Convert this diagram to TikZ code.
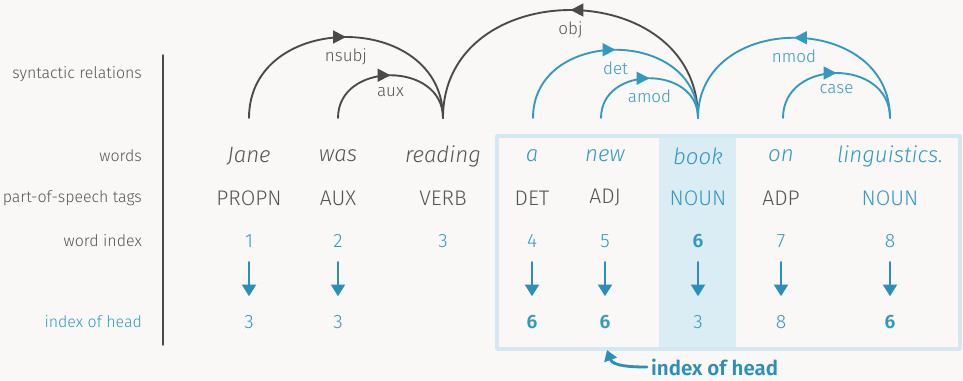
\documentclass[tikz,border=0pt]{standalone}
\usepackage{fontspec}
\setmainfont{Fira Sans}[UprightFont=* Light, ItalicFont=* Light Italic, BoldFont=* SemiBold]
\usetikzlibrary{arrows.meta,decorations.markings}

\begin{document}
\begin{tikzpicture}[
    x=0.03cm,
    y=-0.03cm,
    line cap=round,
    line join=round,
]
\definecolor{dpBack}{HTML}{F9F8F6}
\definecolor{dpGray}{HTML}{555555}
\definecolor{dpDark}{HTML}{4A4A4A}
\definecolor{dpBlue}{HTML}{3598BF}
\definecolor{dpArrow}{HTML}{2B8FB7}
\definecolor{dpFrame}{HTML}{D4E8F1}
\definecolor{dpShade}{HTML}{DAECF4}

\tikzset{
    rowlabel/.style={anchor=east,text=dpGray,font=\fontsize{13.6}{16}\selectfont},
    wordtxt/.style={font=\fontsize{19}{22}\selectfont\itshape},
    tagtxt/.style={font=\fontsize{18}{21}\selectfont},
    numtxt/.style={text=dpBlue,font=\fontsize{16.5}{19}\selectfont},
    numbold/.style={text=dpBlue,font=\fontsize{16.5}{19}\selectfont\bfseries},
    arclabel/.style={pos=0.5,below=6pt,font=\fontsize{14.5}{17}\selectfont},
    deparc/.style={line width=1.6pt,postaction={decorate},
        decoration={markings,mark=at position 0.5 with {\arrow{Triangle[length=11pt,width=11pt]}}}},
    grayarc/.style={deparc,draw=dpDark,text=dpGray},
    bluearc/.style={deparc,draw=dpBlue,text=dpBlue},
    headarrow/.style={draw=dpArrow,line width=1.8pt,-{Triangle[length=10pt,width=12pt]},
        shorten <=18pt,shorten >=22pt},
    notearrow/.style={draw=dpArrow,line width=2.4pt,-{Triangle[length=9pt,width=11pt]}},
}

% one arc from dependent to head, label under its top
\newcommand{\deparc}[5]{
    \draw[#5] (#1) .. controls +(0,-#3) and +(0,-#3) .. (#2) node[arclabel] {#4};
}

\fill[dpBack] (0,0) rectangle (963,380);
\useasboundingbox (0,0) rectangle (963,380);

% frame round the noun phrase
\fill[dpShade] (659,136) rectangle (736,349);
\draw[dpFrame,line width=3pt] (497,136) rectangle (960,349);

\draw[dpDark,line width=1.2pt] (163,55) -- (163,345);

\node[rowlabel] (lblrel) at (146,74) {syntactic relations};
\node[rowlabel] (lblword) at (146,156) {words};
\node[rowlabel] (lbltag) at (146,198) {part-of-speech tags};
\node[rowlabel] (lblidx) at (146,241) {word index};
\node[rowlabel,text=dpBlue] (lblhead) at (146,322) {index of head};

\foreach \i/\x/\w/\c in {1/249/Jane/dpGray,2/338/was/dpGray,3/443/reading/dpGray,
    4/532/a/dpBlue,5/605/new/dpBlue,6/698/book/dpBlue,7/781/on/dpBlue,8/890/linguistics./dpBlue} {
    \node[wordtxt,text=\c] (w\i) at (\x,156) {\w};
}

\foreach \i/\x/\t/\c in {1/249/PROPN/dpGray,2/338/AUX/dpGray,3/443/VERB/dpGray,
    4/532/DET/dpGray,5/605/ADJ/dpGray,6/698/NOUN/dpBlue,7/781/ADP/dpGray,8/890/NOUN/dpBlue} {
    \node[tagtxt,text=\c] (pos\i) at (\x,198) {\t};
}

\foreach \i/\x/\s in {1/249/numtxt,2/338/numtxt,3/443/numtxt,4/532/numtxt,
    5/605/numtxt,6/698/numbold,7/781/numtxt,8/890/numtxt} {
    \node[\s] (idx\i) at (\x,241) {\i};
}

\foreach \i/\x/\h/\s in {1/249/3/numtxt,2/338/3/numtxt,4/532/6/numbold,5/605/6/numbold,
    6/698/3/numtxt,7/781/8/numtxt,8/890/6/numbold} {
    \node[\s] (hd\i) at (\x,322) {\h};
    \draw[headarrow] (idx\i.center) -- (hd\i.center);
}

\foreach \i/\x in {1/249,2/338,3/443,4/533,5/601,6/698,7/783,8/890} {
    \coordinate (a\i) at (\x,118);
}

\deparc{a1}{a3}{108}{nsubj}{grayarc}
\deparc{a2}{a3}{57}{aux}{grayarc}
\deparc{a6}{a3}{144}{obj}{grayarc}
\deparc{a4}{a6}{91}{det}{bluearc}
\deparc{a5}{a6}{53}{amod}{bluearc}
\deparc{a8}{a6}{107}{nmod}{bluearc}
\deparc{a7}{a8}{60}{case}{bluearc}

\node[anchor=west,text=dpArrow,font=\fontsize{17.5}{21}\selectfont\bfseries] (headnote) at (647,367) {index of head};
\coordinate (notetip) at (607,350);
\draw[notearrow] (headnote.west) to[out=180,in=-70] (notetip);
\end{tikzpicture}
\end{document}
